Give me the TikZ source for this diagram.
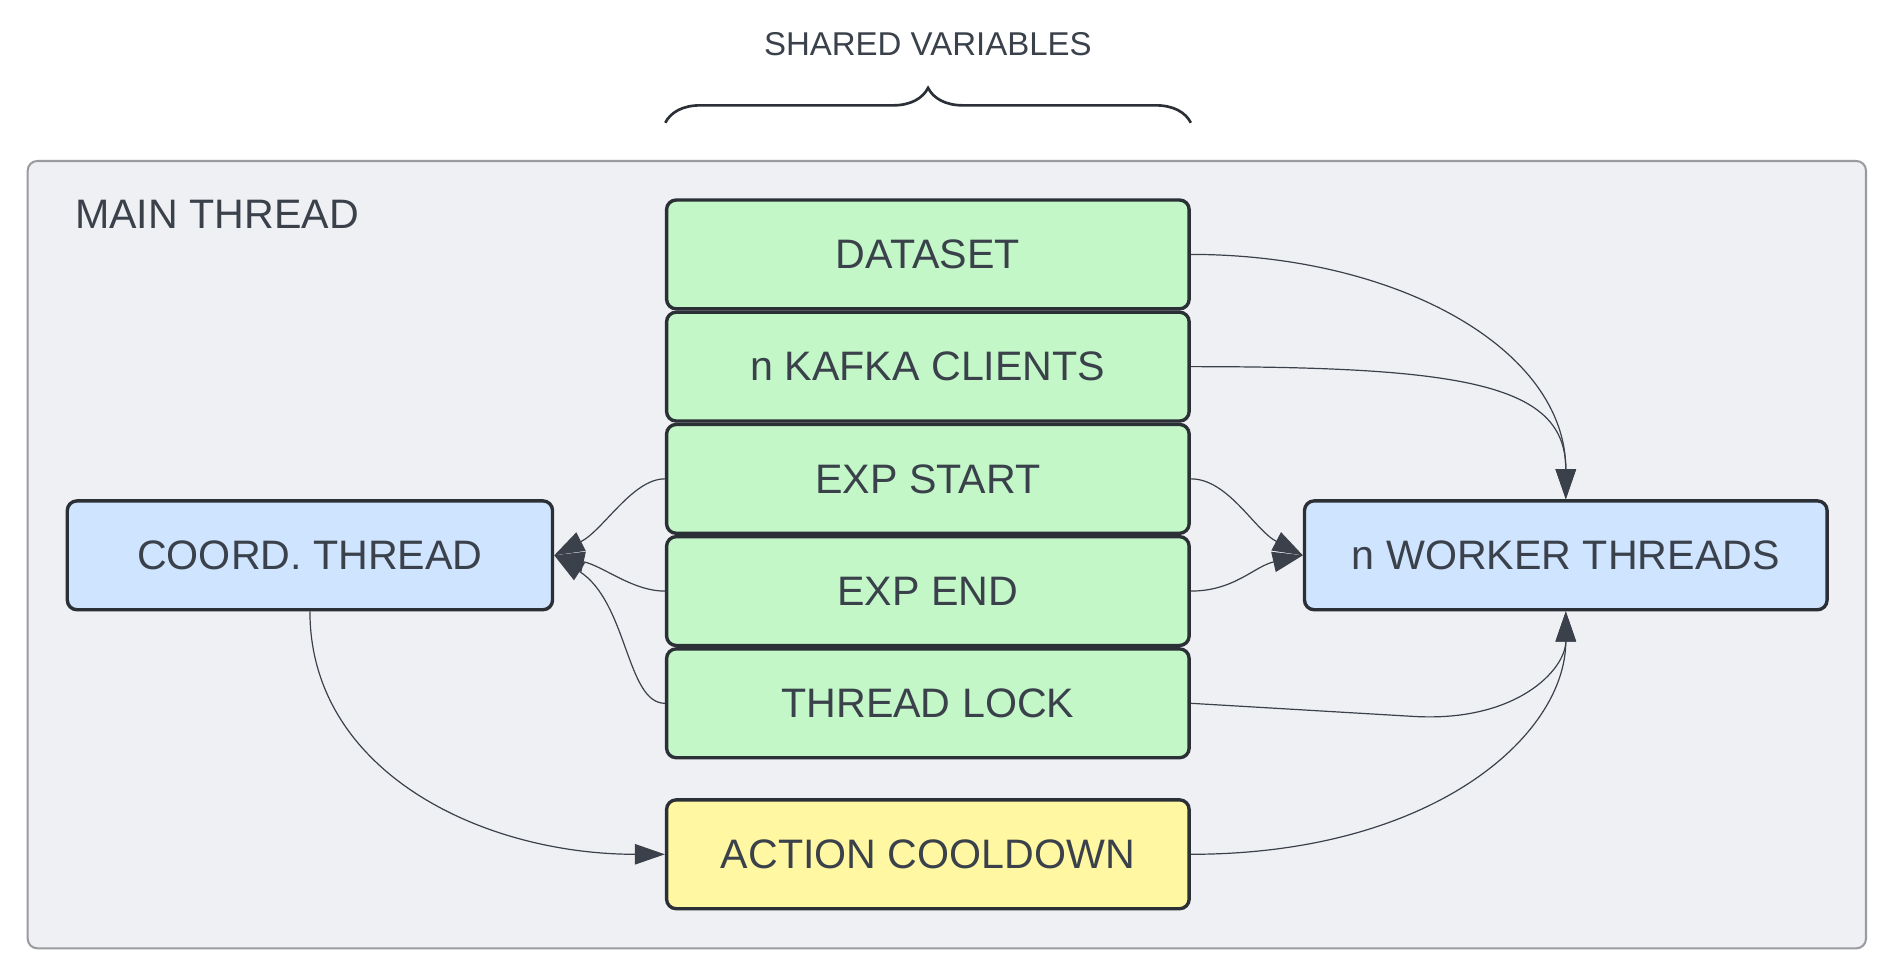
\documentclass[tikz,border=0pt]{standalone}
\usepackage{fontspec}
\setmainfont{Liberation Sans}
\usetikzlibrary{arrows.meta, decorations.pathreplacing}
\definecolor{ink}{HTML}{2B2F36}
\definecolor{txt}{HTML}{3A414B}
\definecolor{vargreen}{HTML}{C3F7C8}
\definecolor{threadblue}{HTML}{CFE4FF}
\definecolor{timeryellow}{HTML}{FFF7A1}
\definecolor{framefill}{HTML}{EFF0F4}
\definecolor{framegray}{HTML}{9A9B9F}

\begin{document}
\begin{tikzpicture}[x=0.5pt, y=-0.5pt,
% boxes
box/.style={draw=ink, line width=1.4pt, rounded corners=4pt, inner sep=0, minimum width=217pt, minimum height=45.2pt, text=txt, font=\fontsize{17.1}{20}\selectfont},
var/.style={box, fill=vargreen},
thread/.style={box, fill=threadblue},
timer/.style={box, fill=timeryellow},
% main thread frame
frame/.style={draw=framegray, fill=framefill, line width=0.85pt, rounded corners=4pt},
% annotations
annot/.style={text=txt, inner sep=0},
frameannot/.style={annot, anchor=base west, font=\fontsize{17.1}{20}\selectfont},
topannot/.style={annot, anchor=base, font=\fontsize{13.7}{16}\selectfont},
% connectors
conn/.style={draw=txt, line width=0.5pt, -{Triangle[length=12.5pt, width=8.5pt]}}
]

\useasboundingbox (0,0) rectangle (1568,811.4);

% MAIN THREAD FRAME
\path[frame] (23,133.7) rectangle (1549.7,787.6);
\path (62,189.6) node[frameannot] (main) {MAIN THREAD};

% SHARED VARIABLES
\path (770.6,211.3) node[var] (dataset) {DATASET}
++(0,93.2) node[var] (kafka) {n KAFKA CLIENTS}
++(0,93.2) node[var] (expstart) {EXP START}
++(0,93.2) node[var] (expend) {EXP END}
++(0,93.2) node[var] (tlock) {THREAD LOCK}
;
\path (770.6,709.5) node[timer] (cooldown) {ACTION COOLDOWN};
\path[decorate, decoration={brace, amplitude=14.5pt}, draw=ink, line width=1.1pt]
(552.5,102) -- coordinate (shared) (989,102)
(770.6,45.7) node[topannot] {SHARED VARIABLES}
;

% THREADS
\path (257.4,461.2) node[thread, minimum width=201.5pt] (coord) {COORD. THREAD};
\path (1300.4,461.2) node[thread] (worker) {n WORKER THREADS};
\coordinate (lockbend) at (1174,595);

% coordinator reads
\draw[conn] (expstart.west) .. controls +(-27,0) and +(41,-21) .. (coord.east);
\draw[conn] (expend.west) .. controls +(-27,0) and +(41,9) .. (coord.east);
\draw[conn] (tlock.west) .. controls +(-32,0) and +(61,39) .. (coord.east);
\draw[conn] (coord.south) .. controls +(0,133) and +(-152,0) .. (cooldown.west);

% worker reads
\draw[conn] (dataset.east) .. controls +(171,0) and +(0,-125) .. (worker.north);
\draw[conn] (kafka.east) .. controls +(230,0) and +(0,-95) .. (worker.north);
\draw[conn] (expstart.east) .. controls +(31,0) and +(-40,-21) .. (worker.west);
\draw[conn] (expend.east) .. controls +(36,0) and +(-40,9) .. (worker.west);
\draw[conn] (tlock.east) -- (lockbend) .. controls +(86,5) and +(0,48) .. (worker.south);
\draw[conn] (cooldown.east) .. controls +(201,0) and +(0,103) .. (worker.south);

\end{tikzpicture}
\end{document}
